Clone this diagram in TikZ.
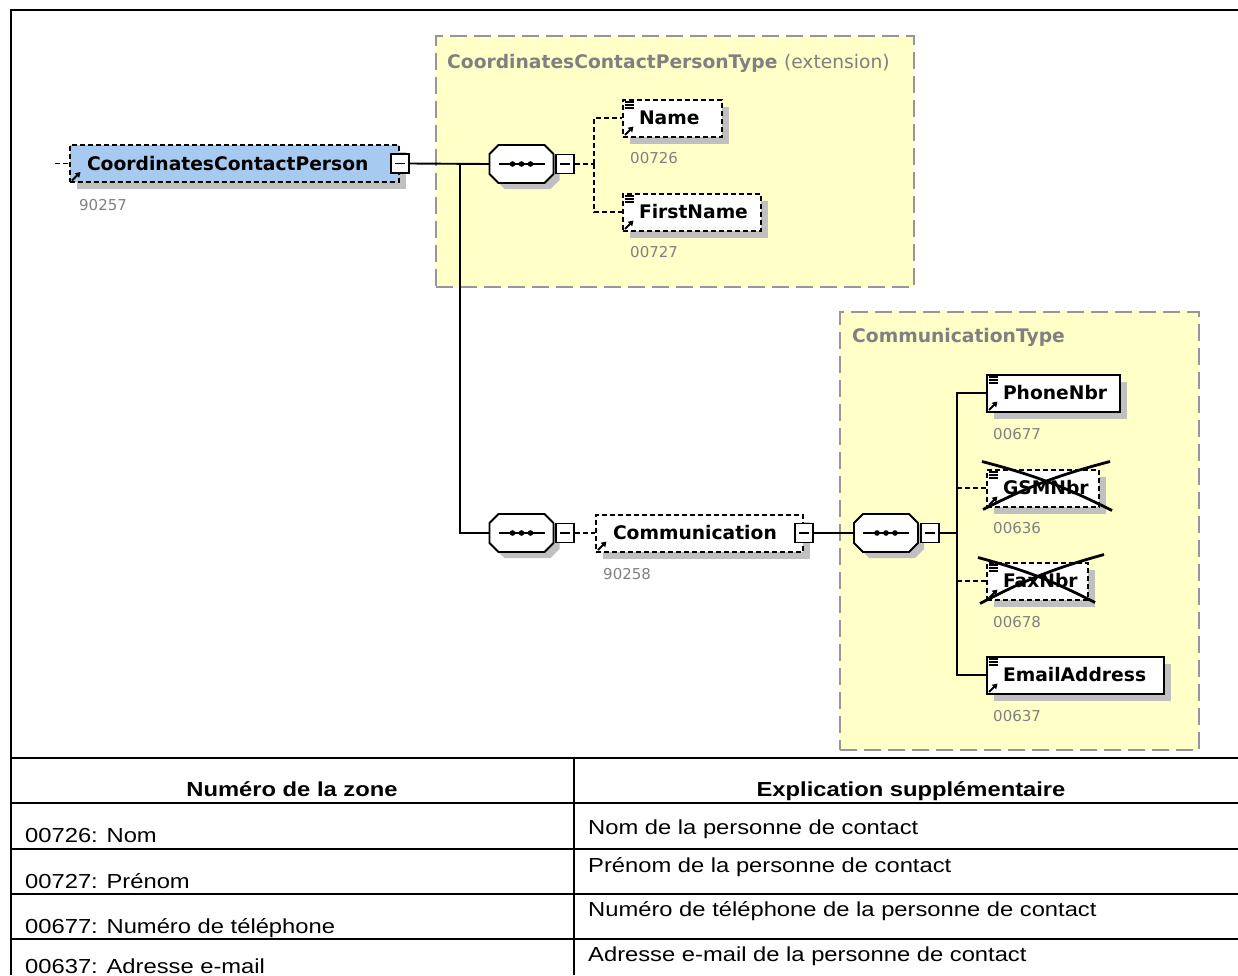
\documentclass[tikz,border=0pt]{standalone}
\usepackage{fontspec}
\setmainfont{DejaVu Sans}
\newfontfamily\tabfont[FakeStretch=1.17]{Liberation Sans}
\usetikzlibrary{shadows,calc,arrows.meta}
\definecolor{ylw}{RGB}{255,255,200}
\definecolor{bxgray}{RGB}{150,150,150}
\definecolor{shgray}{RGB}{192,192,192}
\definecolor{lblgray}{RGB}{128,128,128}
\definecolor{rootblue}{RGB}{166,202,240}
\newcommand\elfont{\fontsize{18.7}{22}\selectfont\bfseries}
\newcommand\lbfont{\fontsize{15}{18}\selectfont}
\newcommand\tbfont{\tabfont\fontsize{20.3}{24}\selectfont}
\tikzset{
  typebox/.style={draw=bxgray, line width=2pt, fill=ylw, dash pattern=on 17pt off 7pt, inner sep=0pt, anchor=north west},
  elembox/.style={draw=black, line width=2pt, fill=white, minimum height=37pt, inner sep=0pt, anchor=west, font=\elfont,
    general shadow={fill=shgray, shadow xshift=7pt, shadow yshift=-7pt}},
  optional/.style={dash pattern=on 5pt off 3pt},
  conn/.style={line width=1.9pt},
  lbl/.style={anchor=west, text=lblgray, font=\lbfont, inner sep=0pt},
  minusbox/.style={draw, line width=1.8pt, fill=white, minimum width=18pt, minimum height=19pt, inner sep=0pt,
    path picture={\draw[line width=1.6pt] ([xshift=4pt]path picture bounding box.west) -- ([xshift=-4pt]path picture bounding box.east);}},
  seqspot/.style={minimum width=64pt, minimum height=38pt, inner sep=0pt},
  xline/.style={line width=2.8pt},
  tabline/.style={line width=2pt},
  tabtxt/.style={font=\tbfont, inner sep=0pt},
}
\newcommand\seqdraw[1]{%
  \fill[shgray, shift={($(#1.center)+(6,6)$)}] (-32,-10) -- (-23,-19) -- (23,-19) -- (32,-10) -- (32,10) -- (23,19) -- (-23,19) -- (-32,10) -- cycle;
  \draw[line width=1.9pt, fill=white, shift={(#1.center)}] (-32,-10) -- (-23,-19) -- (23,-19) -- (32,-10) -- (32,10) -- (23,19) -- (-23,19) -- (-32,10) -- cycle;
  \draw[line width=1.9pt, shift={(#1.center)}] (-23,0) -- (23,0);
  \fill[shift={(#1.center)}] (-9,0) circle (2.8) (0,0) circle (2.8) (9,0) circle (2.8);
}
\newcommand\arrowicon[1]{%
  \draw[line width=2pt, -{Triangle[length=5pt,width=6pt]}] ([shift={(3,-2.5)}]#1.south west) -- ([shift={(11.5,-11)}]#1.south west);
}
\newcommand\lineicon[1]{%
  \draw[line width=1.1pt] ([shift={(2.5,3.5)}]#1.north west) -- +(9,0) ([shift={(2.5,6.5)}]#1.north west) -- +(9,0) ([shift={(2.5,9.5)}]#1.north west) -- +(9,0);
}
\begin{document}
\begin{tikzpicture}[x=1pt, y=-1pt]
\useasboundingbox (0,0) rectangle (1238,975);
\clip (0,0) rectangle (1238,975);
% type boxes
\node[typebox, minimum width=478pt, minimum height=251pt] (ctype) at (435,35) {};
\node[anchor=west, text=lblgray, font=\elfont, inner sep=0pt] (ctitle) at (447,63) {CoordinatesContactPersonType \textmd{(extension)}};
\node[typebox, minimum width=359pt, minimum height=438pt] (comtype) at (839,311) {};
\node[anchor=west, text=lblgray, font=\elfont, inner sep=0pt] (comtitle) at (852,337) {CommunicationType};
% root element
\node[elembox, fill=rootblue, optional, minimum width=329pt] (root) at (69,163.5) {\makebox[329pt][l]{\hspace{17pt}CoordinatesContactPerson}};
\node[minusbox] (rootm) at (root.east) {};
\arrowicon{root}
\node[lbl] (l90257) at (79,205) {90257};
% sequences
\node[seqspot] (seq1) at (521.5,164) {};
\seqdraw{seq1}
\node[minusbox, anchor=west] (seq1m) at ([xshift=1.5pt]seq1.east) {};
\node[seqspot] (seq2) at (521.5,533) {};
\seqdraw{seq2}
\node[minusbox, anchor=west] (seq2m) at ([xshift=1.5pt]seq2.east) {};
\node[seqspot] (seq3) at (886,533) {};
\seqdraw{seq3}
\node[minusbox, anchor=west] (seq3m) at ([xshift=1.5pt]seq3.east) {};
% Name / FirstName
\node[elembox, optional, minimum width=99pt] (name) at (622,118) {\makebox[99pt][l]{\hspace{16pt}Name}};
\lineicon{name}\arrowicon{name}
\node[lbl] (l00726) at (630,158) {00726};
\node[elembox, optional, minimum width=138pt] (fname) at (622,212) {\makebox[138pt][l]{\hspace{16pt}FirstName}};
\lineicon{fname}\arrowicon{fname}
\node[lbl] (l00727) at (630,252) {00727};
% Communication
\node[elembox, optional, minimum width=207pt] (comm) at (595,533) {\makebox[207pt][l]{\hspace{17pt}Communication}};
\node[minusbox] (commm) at (comm.east) {};
\arrowicon{comm}
\node[lbl] (l90258) at (603,574) {90258};
% Communication children
\node[elembox, minimum width=133pt] (phone) at (986,393) {\makebox[133pt][l]{\hspace{16pt}PhoneNbr}};
\lineicon{phone}\arrowicon{phone}
\node[lbl] (l00677) at (993,434) {00677};
\node[elembox, optional, minimum width=112pt] (gsm) at (986,488) {\makebox[112pt][l]{\hspace{16pt}GSMNbr}};
\lineicon{gsm}\arrowicon{gsm}
\node[lbl] (l00636) at (993,528) {00636};
\node[elembox, optional, minimum width=101pt] (fax) at (986,581) {\makebox[101pt][l]{\hspace{16pt}FaxNbr}};
\lineicon{fax}\arrowicon{fax}
\node[lbl] (l00678) at (993,622) {00678};
\node[elembox, minimum width=177pt] (email) at (986,675) {\makebox[177pt][l]{\hspace{16pt}EmailAddress}};
\lineicon{email}\arrowicon{email}
\node[lbl] (l00637) at (993,716) {00637};
% crosses
\draw[xline] ($(gsm.north west)+(-4,-7)$) to[bend left=6] ($(gsm.south east)+(12,3)$);
\draw[xline] ($(gsm.south west)+(-3,2)$) to[bend left=6] ($(gsm.north east)+(10,-7)$);
\draw[xline] ($(fax.north west)+(-8,-4)$) to[bend left=6] ($(fax.south east)+(6,2)$);
\draw[xline] ($(fax.south west)+(-6,3)$) to[bend left=6] ($(fax.north east)+(15,-7)$);
% connectors
\coordinate (rootin) at (55,163.5);
\draw[conn, optional] (rootin) -- (root.west);
\draw[conn] (rootm.east) -- (seq1.west);
\coordinate (j) at (460,163.5);
\draw[conn] (j) |- (seq2.west);
\coordinate (b1) at (594,164);
\draw[conn, optional] (seq1m.east) -- (b1);
\draw[conn, optional] (b1) |- (name.west);
\draw[conn, optional] (b1) |- (fname.west);
\draw[conn, optional] (seq2m.east) -- (comm.west);
\draw[conn] (commm.east) -- (seq3.west);
\coordinate (b3) at (957,533);
\draw[conn] (seq3m.east) -- (b3);
\draw[conn] (b3) |- (phone.west);
\draw[conn] (b3) |- (email.west);
\draw[conn, optional] (gsm.west -| b3) -- (gsm.west);
\draw[conn, optional] (fax.west -| b3) -- (fax.west);
% frame and table
\draw[tabline] (11,975) -- (11,10) -- (1238,10);
\foreach \yy in {758,803,849,894,939} \draw[tabline] (11,\yy) -- (1238,\yy);
\draw[tabline] (574,758) -- (574,975);
\node[tabtxt, font=\tbfont\bfseries, anchor=base] (h1) at (292,796) {Numéro de la zone};
\node[tabtxt, font=\tbfont\bfseries, anchor=base] (h2) at (911,796) {Explication supplémentaire};
\node[tabtxt, anchor=base west] (r1a) at (25,842) {00726: Nom};
\node[tabtxt, anchor=base west] (r1b) at (588,834) {Nom de la personne de contact};
\node[tabtxt, anchor=base west] (r2a) at (25,888) {00727: Prénom};
\node[tabtxt, anchor=base west] (r2b) at (588,872) {Prénom de la personne de contact};
\node[tabtxt, anchor=base west] (r3a) at (25,933) {00677: Numéro de téléphone};
\node[tabtxt, anchor=base west] (r3b) at (588,916) {Numéro de téléphone de la personne de contact};
\node[tabtxt, anchor=base west] (r4a) at (25,973) {00637: Adresse e-mail};
\node[tabtxt, anchor=base west] (r4b) at (588,961) {Adresse e-mail de la personne de contact};
\end{tikzpicture}
\end{document}
